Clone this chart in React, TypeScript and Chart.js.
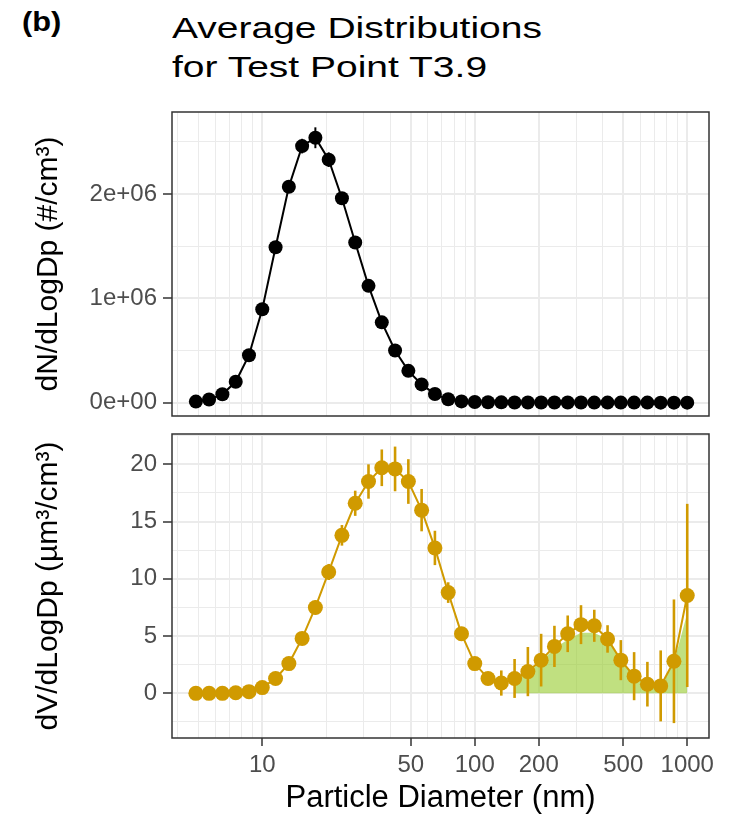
import React, { useEffect, useRef } from 'react';
import { Chart, registerables } from 'chart.js';

Chart.register(...registerables);

const FONT = "'Liberation Sans', Arial, Helvetica, sans-serif";

// Particle diameters (nm)
const diameters = [
  4.87, 5.62, 6.49, 7.5, 8.66, 10.0, 11.55, 13.34, 15.4, 17.78,
  20.54, 23.71, 27.38, 31.62, 36.52, 42.17, 48.7, 56.23, 64.94, 74.99,
  86.6, 100.0, 115.48, 133.35, 153.99, 177.83, 205.35, 237.14, 273.84, 316.23,
  365.17, 421.7, 486.97, 562.34, 649.38, 749.89, 865.96, 1000.0,
];

// dN/dLogDp (#/cm3)
const numberConc = [
  10000, 30000, 80000, 200000, 455000, 895000, 1490000, 2070000, 2460000, 2540000,
  2330000, 1960000, 1535000, 1120000, 770000, 500000, 305000, 175000, 83000, 32000,
  12000, 6000, 4000, 3000, 2000, 1500, 1200, 1000, 900, 800,
  700, 600, 500, 400, 300, 250, 200, 150,
];
const numberErr = [
  0, 0, 0, 5000, 10000, 20000, 40000, 50000, 70000, 100000,
  70000, 50000, 40000, 30000, 20000, 10000, 5000, 3000, 0, 0,
  0, 0, 0, 0, 0, 0, 0, 0, 0, 0,
  0, 0, 0, 0, 0, 0, 0, 0,
];

// dV/dLogDp (um3/cm3)
const volumeConc = [
  0.0, 0.0, 0.0, 0.05, 0.15, 0.5, 1.3, 2.6, 4.8, 7.5,
  10.6, 13.8, 16.6, 18.5, 19.7, 19.6, 18.5, 16.0, 12.7, 8.8,
  5.2, 2.6, 1.3, 0.9, 1.3, 1.9, 2.9, 4.1, 5.2, 6.0,
  5.9, 4.75, 2.9, 1.5, 0.8, 0.65, 2.8, 8.55,
];
const volumeErr = [
  0.05, 0.05, 0.05, 0.05, 0.1, 0.2, 0.3, 0.4, 0.5, 0.6,
  0.7, 0.9, 1.1, 1.5, 1.6, 1.95, 1.95, 1.85, 1.5, 0.9,
  0.6, 0.4, 0.5, 1.1, 1.7, 2.15, 2.3, 1.8, 1.6, 1.7,
  1.4, 1.2, 1.75, 2.1, 1.95, 3.1, 5.4, 8.0,
];
// shaded accumulation-mode area (um3/cm3)
const accumFill = [
  null, null, null, null, null, null, null, null, null, null,
  null, null, null, null, null, null, null, null, null, null,
  null, null, null, null, 1.2, 1.8, 2.8, 3.9, 4.7, 5.3,
  5.3, 4.7, 2.9, 1.5, 0.8, 0.6, 2.7, 7.0,
];

const xGridValues = [4, 5, 6, 7, 8, 9, 10, 20, 30, 40, 50, 60, 70, 80, 90, 100, 200, 300, 400, 500, 600, 700, 800, 900, 1000];
const xTickLabels = ['', '', '', '', '', '', '10', '', '', '', '50', '', '', '', '', '100', '200', '', '', '500', '', '', '', '', '1000'];

const nTicks = [0, 500000, 1000000, 1500000, 2000000, 2500000];
const nTickLabels = ['0e+00', '', '1e+06', '', '2e+06', ''];

const vTicks = [-2.5, 0, 2.5, 5, 7.5, 10, 12.5, 15, 17.5, 20, 22.5];
const vTickLabels = ['', '0', '', '5', '', '10', '', '15', '', '20', ''];

const BLACK = '#000000';
const GOLD = '#D09A00';
const GREEN_FILL = 'rgba(154, 205, 50, 0.62)';
const GRID = '#EBEBEB';
const TICK_TEXT = '#4D4D4D';

const panelBorder = {
  id: 'panelBorder',
  afterDatasetsDraw(chart: any) {
    const { ctx, chartArea: a } = chart;
    ctx.save();
    ctx.strokeStyle = '#333333';
    ctx.lineWidth = 1.5;
    ctx.strokeRect(a.left, a.top, a.right - a.left, a.bottom - a.top);
    ctx.restore();
  },
};

const errorBars = {
  id: 'errorBars',
  beforeDatasetDraw(chart: any, args: any, opts: any) {
    if (args.index !== 0) return;
    const { ctx, chartArea: a } = chart;
    const xs = chart.scales.x;
    const ys = chart.scales.y;
    ctx.save();
    ctx.beginPath();
    ctx.rect(a.left, a.top, a.right - a.left, a.bottom - a.top);
    ctx.clip();
    ctx.strokeStyle = opts.color;
    ctx.lineWidth = opts.width;
    opts.xs.forEach((d: number, i: number) => {
      const e = opts.err[i];
      if (!e) return;
      const px = xs.getPixelForValue(d);
      ctx.beginPath();
      ctx.moveTo(px, ys.getPixelForValue(opts.vals[i] - e));
      ctx.lineTo(px, ys.getPixelForValue(opts.vals[i] + e));
      ctx.stroke();
    });
    ctx.restore();
  },
};

function xScale(showLabels: boolean) {
  return {
    type: 'logarithmic',
    min: 3.76,
    max: 1266,
    afterBuildTicks: (s: any) => {
      s.ticks = xGridValues.map((v) => ({ value: v }));
    },
    afterFit: (s: any) => {
      s.height = showLabels ? 80 : 14;
      s.paddingLeft = 0;
      s.paddingRight = 0;
    },
    border: { display: false },
    grid: {
      color: GRID,
      lineWidth: (c: any) => (xTickLabels[c.index] ? 2 : 1),
      drawTicks: showLabels,
      tickLength: 8,
      tickWidth: 1.5,
      tickColor: (c: any) => (xTickLabels[c.index] ? '#333333' : 'rgba(0,0,0,0)'),
    },
    ticks: {
      display: showLabels,
      autoSkip: false,
      maxRotation: 0,
      minRotation: 0,
      padding: 5,
      color: TICK_TEXT,
      font: { family: FONT, size: 24 },
      callback: (_v: any, i: number) => xTickLabels[i],
    },
    title: {
      display: showLabels,
      text: 'Particle Diameter (nm)',
      color: '#000000',
      font: { family: FONT, size: 31 },
      padding: { top: 0, bottom: 1 },
    },
  };
}

function yScale(min: number, max: number, ticks: number[], labels: string[], title: string) {
  return {
    type: 'linear',
    min,
    max,
    afterBuildTicks: (s: any) => {
      s.ticks = ticks.map((v) => ({ value: v }));
    },
    afterFit: (s: any) => {
      s.width = 172;
      s.paddingTop = 0;
      s.paddingBottom = 0;
    },
    border: { display: false },
    grid: {
      color: GRID,
      lineWidth: (c: any) => (labels[c.index] ? 2 : 1),
      drawTicks: true,
      tickLength: 9,
      tickWidth: 1.5,
      tickColor: (c: any) => (labels[c.index] ? '#333333' : 'rgba(0,0,0,0)'),
    },
    ticks: {
      autoSkip: false,
      padding: 6,
      color: TICK_TEXT,
      font: { family: FONT, size: 24 },
      callback: (_v: any, i: number) => labels[i],
    },
    title: {
      display: true,
      text: title,
      color: '#000000',
      font: { family: FONT, size: 30 },
      padding: { top: 31, bottom: 0 },
    },
  };
}

function TopPanel() {
  const ref = useRef<HTMLCanvasElement>(null);
  useEffect(() => {
    const pts = diameters.map((d, i) => ({ x: d, y: numberConc[i] }));
    const chart = new Chart(ref.current as HTMLCanvasElement, {
      type: 'line',
      data: {
        datasets: [
          {
            data: pts,
            showLine: false,
            pointRadius: 7,
            pointHoverRadius: 7,
            pointBorderWidth: 0,
            pointBackgroundColor: BLACK,
            borderColor: BLACK,
          },
          {
            data: pts,
            borderColor: BLACK,
            borderWidth: 2,
            pointRadius: 0,
            tension: 0,
            fill: false,
          },
        ],
      } as any,
      options: {
        animation: false,
        responsive: false,
        devicePixelRatio: 1,
        events: [],
        layout: { padding: { left: 0, right: 32, top: 12, bottom: 0 } },
        plugins: {
          legend: { display: false },
          tooltip: { enabled: false },
          errorBars: { xs: diameters, vals: numberConc, err: numberErr, color: BLACK, width: 2 },
        } as any,
        scales: {
          x: xScale(false),
          y: yScale(-128000, 2787000, nTicks, nTickLabels, 'dN/dLogDp (#/cm³)'),
        } as any,
      },
      plugins: [panelBorder, errorBars],
    });
    return () => chart.destroy();
  }, []);
  return (
    <canvas
      ref={ref}
      width={741}
      height={330}
      style={{ position: 'absolute', left: 0, top: 100, width: 741, height: 330 }}
    />
  );
}

function BottomPanel() {
  const ref = useRef<HTMLCanvasElement>(null);
  useEffect(() => {
    const pts = diameters.map((d, i) => ({ x: d, y: volumeConc[i] }));
    const fillPts = diameters
      .map((d, i) => ({ x: d, y: accumFill[i] }))
      .filter((p) => p.y !== null);
    const chart = new Chart(ref.current as HTMLCanvasElement, {
      type: 'line',
      data: {
        datasets: [
          {
            data: pts,
            showLine: false,
            pointRadius: 7.5,
            pointHoverRadius: 7.5,
            pointBorderWidth: 0,
            pointBackgroundColor: GOLD,
            borderColor: GOLD,
          },
          {
            data: pts,
            borderColor: GOLD,
            borderWidth: 2,
            pointRadius: 0,
            tension: 0,
            fill: false,
          },
          {
            data: fillPts,
            borderWidth: 0,
            borderColor: 'rgba(0,0,0,0)',
            backgroundColor: GREEN_FILL,
            pointRadius: 0,
            tension: 0,
            fill: 'origin',
          },
        ],
      } as any,
      options: {
        animation: false,
        responsive: false,
        devicePixelRatio: 1,
        events: [],
        layout: { padding: { left: 0, right: 32, top: 14, bottom: 0 } },
        plugins: {
          legend: { display: false },
          tooltip: { enabled: false },
          errorBars: { xs: diameters, vals: volumeConc, err: volumeErr, color: GOLD, width: 2.6 },
        } as any,
        scales: {
          x: xScale(true),
          y: yScale(-3.9, 22.65, vTicks, vTickLabels, 'dV/dLogDp (µm³/cm³)'),
        } as any,
      },
      plugins: [panelBorder, errorBars],
    });
    return () => chart.destroy();
  }, []);
  return (
    <canvas
      ref={ref}
      width={741}
      height={398}
      style={{ position: 'absolute', left: 0, top: 420, width: 741, height: 398 }}
    />
  );
}

export default function App() {
  return (
    <div
      style={{
        position: 'absolute',
        left: 0,
        top: 0,
        width: 741,
        height: 818,
        background: '#FFFFFF',
        overflow: 'hidden',
        fontFamily: FONT,
      }}
    >
      <div
        style={{
          position: 'absolute',
          left: 22,
          top: 6,
          fontSize: 28,
          fontWeight: 'bold',
          lineHeight: '32px',
          color: '#000',
          whiteSpace: 'nowrap',
          transform: 'scaleX(1.1)',
          transformOrigin: 'left top',
        }}
      >
        (b)
      </div>
      <div
        style={{
          position: 'absolute',
          left: 172,
          top: 8,
          fontSize: 30,
          lineHeight: '39px',
          color: '#000',
          whiteSpace: 'nowrap',
          transform: 'scaleX(1.3)',
          transformOrigin: 'left top',
        }}
      >
        Average Distributions
        <br />
        for Test Point T3.9
      </div>
      <TopPanel />
      <BottomPanel />
    </div>
  );
}
